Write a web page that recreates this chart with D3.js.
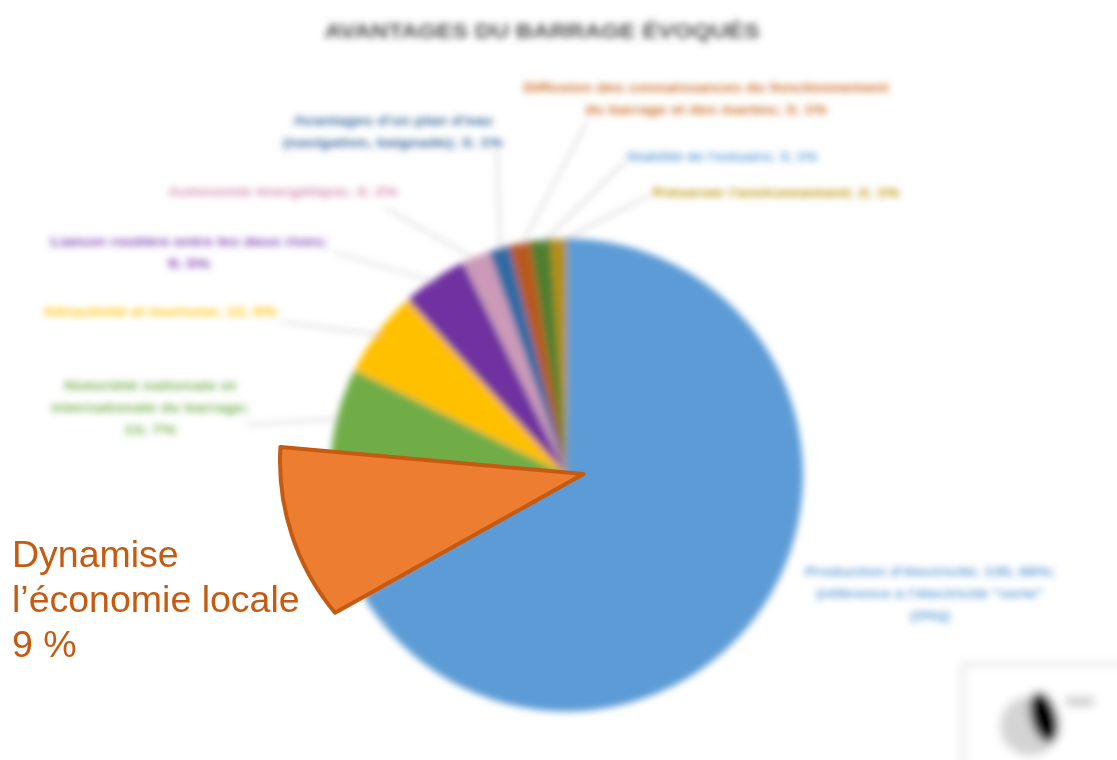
<!DOCTYPE html>
<html><head><meta charset="utf-8">
<script src="https://cdn.jsdelivr.net/npm/d3@7"></script>
<style>html,body{margin:0;padding:0;background:#fff;}svg{display:block;}</style>
</head><body>
<script>
// ---- data ----
const title = "AVANTAGES DU BARRAGE ÉVOQUÉS";
const categories = [
  "Production d'électricité",
  "Dynamise l’économie locale",
  "Notoriété nationale et internationale du barrage",
  "Attractivité et tourisme",
  "Liaison routière entre les deux rives",
  "Autonomie énergétique",
  "Avantages d'un plan d'eau (navigation, baignade)",
  "Diffusion des connaissances du fonctionnement du barrage et des marées",
  "Stabilité de l'estuaire",
  "Préserver l'environnement"
];
const shares = [66.5, 9, 6.8, 6, 4.5, 1.9, 1.4, 1.4, 1.4, 1.1];
const labelLines = [
  ["Production d'électricité; 135; 66%;", "(référence à l'électricité \"verte\"", "(3%))"],
  [],
  ["Notoriété nationale et", "internationale du barrage;", "13; 7%"],
  ["Attractivité et tourisme; 12; 6%"],
  ["Liaison routière entre les deux rives;", "9; 5%"],
  ["Autonomie énergétique; 4; 2%"],
  ["Avantages d'un plan d'eau", "(navigation, baignade); 3; 1%"],
  ["Diffusion des connaissances du fonctionnement", "du barrage et des marées; 3; 1%"],
  ["Stabilité de l'estuaire; 3; 1%"],
  ["Préserver l'environnement; 2; 1%"]
];
const highlightIndex = 1;
const highlightLines = ["Dynamise", "l’économie locale", "9 %"];

// ---- styles / layout ----
const sliceColors = ["#5b9bd5","#ed7d31","#70ad47","#ffc000","#7030a0","#cc9ab8","#2e6aa3","#b9581a","#4e7f2f","#b38e12"];
const labelColors = ["#5b9bd5","#ed7d31","#70ad47","#ffc000","#7a3db0","#d08bab","#2e5f95","#c8651f","#5b9bd5","#b8900a"];
// label layout: [centerX, firstLineY, [line widths], leader start [x,y] or null]
const labelLayout = [
  [930, 572, [250, 227, 40], null],
  null,
  [150, 386, [172, 198, 52], [245, 425]],
  [160, 312, [234], [280, 322]],
  [189, 242, [277, 42], [333, 252]],
  [283, 192, [230], [385, 208]],
  [393, 121, [199, 220], [497, 150]],
  [706, 88, [365, 242], [588, 120]],
  [722, 157, [191], [625, 162]],
  [776, 193, [247], [648, 196]]
];
const W = 1117, H = 760;
const cx = 566.5, cy = 475, R = 236.5;

const svg = d3.select("body").append("svg").attr("width", W).attr("height", H);
const defs = svg.append("defs");
defs.append("filter").attr("id","blur").attr("filterUnits","userSpaceOnUse")
  .attr("x",0).attr("y",0).attr("width",W).attr("height",H)
  .append("feGaussianBlur").attr("stdDeviation",3.6);
defs.append("filter").attr("id","blur2").attr("filterUnits","userSpaceOnUse")
  .attr("x",0).attr("y",0).attr("width",W).attr("height",H)
  .append("feGaussianBlur").attr("stdDeviation",5);

const bg = svg.append("g").attr("filter","url(#blur)");

// title
bg.append("text").attr("x", 542).attr("y", 38).attr("text-anchor","middle")
  .attr("font-family","Liberation Sans, Arial, sans-serif").attr("font-weight","bold")
  .attr("font-size", 21).attr("fill","#4a4a4a")
  .attr("textLength", 435).attr("lengthAdjust","spacingAndGlyphs")
  .text(title);

// pie
const pie = d3.pie().sort(null).value(d => d)(shares);
const arc = d3.arc().innerRadius(0).outerRadius(R);
const pg = bg.append("g").attr("transform", `translate(${cx},${cy})`);
pg.selectAll("path").data(pie).join("path")
  .attr("d", arc).attr("fill", (d,i) => sliceColors[i]);

// leader lines
const edgePoint = (d, r) => {
  const a = (d.startAngle + d.endAngle) / 2;
  return [cx + r*Math.sin(a), cy - r*Math.cos(a)];
};
pie.forEach((d,i) => {
  const L = labelLayout[i];
  if (!L || !L[3]) return;
  const p = edgePoint(d, R - 4);
  bg.append("line").attr("x1", L[3][0]).attr("y1", L[3][1])
    .attr("x2", p[0]).attr("y2", p[1])
    .attr("stroke","#b0b0b0").attr("stroke-width",1.2);
});

// labels
pie.forEach((d,i) => {
  const L = labelLayout[i];
  if (!L) return;
  labelLines[i].forEach((t,j) => {
    bg.append("text").attr("x", L[0]).attr("y", L[1] + j*22 + 4)
      .attr("text-anchor","middle")
      .attr("font-family","Liberation Sans, Arial, sans-serif")
      .attr("font-size", 13).attr("font-weight","bold")
      .attr("fill", labelColors[i])
      .attr("textLength", L[2][j]).attr("lengthAdjust","spacingAndGlyphs")
      .text(t);
  });
});

// thumbnail in bottom-right corner
const th = svg.append("g").attr("filter","url(#blur2)");
th.append("rect").attr("x", 963).attr("y", 664).attr("width", 170).attr("height", 120)
  .attr("fill","#fff").attr("stroke","#dcdcdc").attr("stroke-width",3);
th.append("circle").attr("cx", 1030).attr("cy", 726).attr("r", 30).attr("fill","#d4d4d4");
th.append("ellipse").attr("cx", 1044).attr("cy", 717).attr("rx", 13).attr("ry", 26)
  .attr("transform","rotate(-15 1044 717)").attr("fill","#000");
th.append("rect").attr("x", 1066).attr("y", 697).attr("width", 28).attr("height", 9).attr("fill","#c8c8c8");

// highlighted (callout) slice
const hs = pie[highlightIndex];
const deg = Math.PI/180;
const oc = [cx - 50, cy - 14];            // callout arc centre
const tip = [cx + 17, cy - 1];            // callout tip
const a0 = hs.startAngle - 9.3*deg, a1 = hs.endAngle + 1.6*deg;
const p = d3.path();
p.moveTo(tip[0], tip[1]);
p.lineTo(oc[0] + R*Math.sin(a1), oc[1] - R*Math.cos(a1));
p.arc(oc[0], oc[1], R, a1 - Math.PI/2, a0 - Math.PI/2, true);
p.closePath();
svg.append("path").attr("d", p.toString())
  .attr("fill", sliceColors[highlightIndex]).attr("stroke","#c55a11")
  .attr("stroke-width", 4).attr("stroke-linejoin","round");

// highlighted label
highlightLines.forEach((t,j) => {
  svg.append("text").attr("x", 12).attr("y", 567 + j*45)
    .attr("font-family","Liberation Sans, Arial, sans-serif")
    .attr("font-size", 37.5).attr("fill","#c55a11").text(t);
});
</script>
</body></html>
